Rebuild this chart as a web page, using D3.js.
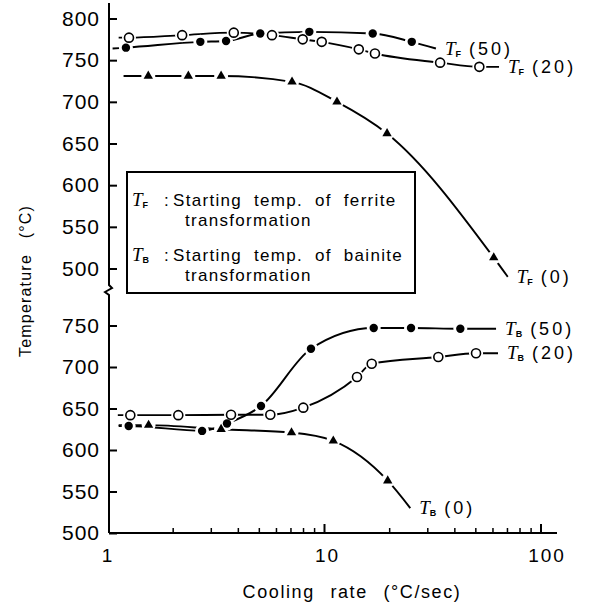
<!DOCTYPE html>
<html><head><meta charset="utf-8">
<script src="https://cdn.jsdelivr.net/npm/d3@7"></script>
<style>
body{margin:0;background:#fff}
svg{font-family:"Liberation Sans",Arial,sans-serif}
</style></head><body>
<svg id="c" width="593" height="605"></svg>
<script>
// ---------- data ----------
const xMajorTicks = [1, 10, 100];
const xMinorTicks = [2,3,4,5,6,7,8,9,20,30,40,50,60,70,80,90];
const xTickLabels = ["1", "10", "100"];
const yTopTicks = [500,550,600,650,700,750,800];
const yBotTicks = [500,550,600,650,700,750];

// T_F curves (upper panel)
const tf50Rate = [1.21, 2.67, 3.51, 5.05, 8.51, 16.7, 25.3];
const tf50Temp = [765, 772, 773, 782, 784, 782, 772];
const tf50Ends = [[1.05, 764], [32.7, 764]];

const tf20Rate = [1.25, 2.2, 3.81, 5.72, 7.93, 9.71, 14.4, 17.1, 34.2, 51.9];
const tf20Temp = [777, 780, 783, 780, 775, 772, 763, 758, 747, 742];
const tf20Ends = [[1.12, 777], [64, 742]];

const tf0Rate = [1.535, 2.35, 3.33, 7.08, 11.42, 19.45, 60.5];
const tf0Temp = [731, 731, 731, 724, 700, 662, 513];
const tf0Ends = [[1.18, 731], [70.2, 490]];

// T_B curves (lower panel)
const tb50Rate = [1.246, 2.72, 3.545, 5.09, 8.66, 16.88, 25.1, 42.4];
const tb50Temp = [629, 623, 632, 653, 722, 747, 747, 746];
const tb50Ends = [[1.12, 629], [62, 746]];

const tb20Rate = [1.268, 2.112, 3.70, 5.62, 7.98, 14.13, 16.52, 33.55, 50.1];
const tb20Temp = [642, 642, 642.5, 642.5, 651, 688, 704, 712, 716.5];
const tb20Ends = [[1.11, 642], [63.3, 716.5]];

const tb0Rate = [1.54, 3.33, 7.04, 10.98, 19.59];
const tb0Temp = [630, 625, 621, 611, 563];
const tb0Ends = [[1.12, 630], [24.9, 530]];

// ---------- layout ----------
const svg = d3.select("#c");
const x = d3.scaleLog().domain([1, 100]).range([108, 541]);
const yTop = d3.scaleLinear().domain([500, 800]).range([268.5, 18.5]);
const yBot = d3.scaleLinear().domain([500, 750]).range([533, 325.5]);
const axisX = 109;

// y axis line with break
svg.append("path")
  .attr("d", `M${axisX},3 L${axisX},285 L${axisX+3},288 L${axisX-4},292 L${axisX},295 L${axisX},533`)
  .attr("fill","none").attr("stroke","#000").attr("stroke-width",2);
// x axis line
svg.append("line").attr("x1",axisX).attr("x2",557).attr("y1",533).attr("y2",533)
  .attr("stroke","#000").attr("stroke-width",2);

function yAxis(scale, ticks){
  const g = svg.append("g").attr("transform",`translate(${axisX},0)`)
    .call(d3.axisLeft(scale).tickValues(ticks).tickSizeInner(-8).tickSizeOuter(0).tickPadding(9).tickFormat(d3.format("d")));
  g.select(".domain").remove();
  g.selectAll(".tick line").attr("stroke","#000").attr("stroke-width",2);
  g.selectAll(".tick text").attr("font-size",21).attr("letter-spacing",1).attr("fill","#000")
    .attr("font-family","'Liberation Sans',Arial,sans-serif");
}
yAxis(yTop, yTopTicks);
yAxis(yBot, yBotTicks);

// x ticks
svg.append("g").selectAll("line.minor").data(xMinorTicks).join("line")
  .attr("x1",d=>x(d)).attr("x2",d=>x(d)).attr("y1",533).attr("y2",528)
  .attr("stroke","#000").attr("stroke-width",1.5);
svg.append("g").selectAll("line.major").data(xMajorTicks.slice(1)).join("line")
  .attr("x1",d=>x(d)).attr("x2",d=>x(d)).attr("y1",533).attr("y2",524)
  .attr("stroke","#000").attr("stroke-width",2);
svg.append("g").selectAll("text").data(xMajorTicks).join("text")
  .attr("x",(d,i)=>x(d)+ (i*3)).attr("y",562).attr("text-anchor","middle")
  .attr("font-size",19).attr("letter-spacing",2)
  .text((d,i)=>xTickLabels[i]);

// axis titles
svg.append("text").attr("x",352).attr("y",598).attr("text-anchor","middle")
  .attr("font-size",18).attr("letter-spacing",1.6).attr("word-spacing",9)
  .text("Cooling rate  (°C/sec)");
svg.append("text").attr("transform","translate(31,281) rotate(-90)").attr("text-anchor","middle")
  .attr("font-size",16).attr("letter-spacing",1.2).attr("word-spacing",10)
  .text("Temperature (°C)");

// ---------- series ----------
const series = [
  {rate:tf50Rate, temp:tf50Temp, ends:tf50Ends, y:yTop, mk:"filled", sub:"F", lab:"(50)"},
  {rate:tf20Rate, temp:tf20Temp, ends:tf20Ends, y:yTop, mk:"open",   sub:"F", lab:"(20)"},
  {rate:tf0Rate,  temp:tf0Temp,  ends:tf0Ends,  y:yTop, mk:"tri",    sub:"F", lab:"(0)"},
  {rate:tb50Rate, temp:tb50Temp, ends:tb50Ends, y:yBot, mk:"filled", sub:"B", lab:"(50)"},
  {rate:tb20Rate, temp:tb20Temp, ends:tb20Ends, y:yBot, mk:"open",   sub:"B", lab:"(20)"},
  {rate:tb0Rate,  temp:tb0Temp,  ends:tb0Ends,  y:yBot, mk:"tri",    sub:"B", lab:"(0)"}
];

const gLines = svg.append("g"), gHalo = svg.append("g"), gMk = svg.append("g"), gLab = svg.append("g");
series.forEach(s=>{
  const pts = [s.ends[0], ...s.rate.map((r,i)=>[r, s.temp[i]]), s.ends[1]];
  const line = d3.line().x(d=>x(d[0])).y(d=>s.y(d[1])).curve(d3.curveMonotoneX);
  gLines.append("path").attr("d",line(pts)).attr("fill","none").attr("stroke","#000").attr("stroke-width",1.9);
  const mp = s.rate.map((r,i)=>[x(r), s.y(s.temp[i])]);
  gHalo.selectAll(null).data(mp).join("circle").attr("cx",d=>d[0]).attr("cy",d=>d[1]).attr("r",7).attr("fill","#fff");
  if (s.mk==="filled"){
    gMk.selectAll(null).data(mp).join("circle").attr("cx",d=>d[0]).attr("cy",d=>d[1]).attr("r",4.2).attr("fill","#000");
  } else if (s.mk==="open"){
    gMk.selectAll(null).data(mp).join("circle").attr("cx",d=>d[0]).attr("cy",d=>d[1]).attr("r",4.5)
      .attr("fill","#fff").attr("stroke","#000").attr("stroke-width",1.6);
  } else {
    const tri = d3.symbol().type(d3.symbolTriangle).size(38);
    gMk.selectAll(null).data(mp).join("path").attr("d",tri()).attr("transform",d=>`translate(${d[0]},${d[1]})`).attr("fill","#000");
  }
  // label at line end
  const e = s.ends[1];
  const t = gLab.append("text").attr("x",x(e[0])+9).attr("y",s.y(e[1])+6).attr("font-size",18);
  t.append("tspan").attr("font-style","italic").attr("font-family","'Liberation Serif',serif").attr("font-size",19).text("T");
  t.append("tspan").attr("font-size",9).attr("dy",2).attr("font-weight","bold").text(s.sub);
  t.append("tspan").attr("dy",-2).attr("dx",8).attr("letter-spacing",3).text(s.lab);
});

// ---------- legend box ----------
const lg = svg.append("g");
lg.append("rect").attr("x",127).attr("y",172).attr("width",288).attr("height",121)
  .attr("fill","#fff").attr("stroke","#000").attr("stroke-width",2);
const legendRows = [
  {sub:"F", l1:"Starting temp. of ferrite", l2:"transformation", y:206},
  {sub:"B", l1:"Starting temp. of bainite", l2:"transformation", y:261}
];
legendRows.forEach(r=>{
  const t = lg.append("text").attr("x",132).attr("y",r.y).attr("font-size",17);
  t.append("tspan").attr("font-style","italic").attr("font-family","'Liberation Serif',serif").attr("font-size",19).text("T");
  t.append("tspan").attr("font-size",9).attr("dy",2).attr("font-weight","bold").text(r.sub);
  t.append("tspan").attr("dy",-2).attr("x",164).text(":");
  t.append("tspan").attr("x",173).attr("letter-spacing",1.3).attr("word-spacing",6).text(r.l1);
  lg.append("text").attr("x",185).attr("y",r.y+20).attr("font-size",17).attr("letter-spacing",1.3).text(r.l2);
});
</script>
</body></html>
